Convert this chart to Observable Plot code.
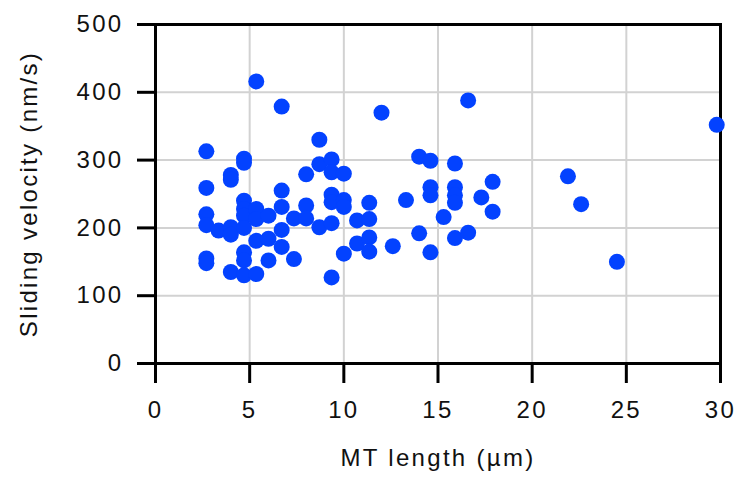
<!DOCTYPE html>
<html>
<head>
<meta charset="utf-8">
<script src="https://cdn.jsdelivr.net/npm/d3@7"></script>
<script src="https://cdn.jsdelivr.net/npm/@observablehq/plot@0.6"></script>
<style>
  html, body { margin: 0; padding: 0; background: #fff; }
  #chart svg { display: block; }
  #chart svg text { font-family: 'Liberation Sans', Arial, sans-serif; letter-spacing: 2.3px; fill: #111; }
</style>
</head>
<body>
<div id="chart"></div>
<script>
// MT length (µm) and sliding velocity (nm/s)
const lengths = [
  2.7, 2.7, 2.7, 2.7, 2.7, 2.7,
  3.35,
  4.0, 4.0, 4.0, 4.0, 4.0,
  4.7, 4.7, 4.7, 4.7, 4.7, 4.7, 4.7, 4.7, 4.7,
  5.35, 5.35, 5.35, 5.35, 5.35,
  6.0, 6.0, 6.0,
  6.7, 6.7, 6.7, 6.7, 6.7,
  7.35, 7.35,
  8.0, 8.0, 8.0,
  8.7, 8.7, 8.7,
  9.35, 9.35, 9.35, 9.35, 9.35, 9.35,
  10.0, 10.0, 10.0, 10.0,
  10.7, 10.7,
  11.35, 11.35, 11.35, 11.35,
  12.0, 12.6, 13.3,
  14.0, 14.0,
  14.6, 14.6, 14.6, 14.6,
  15.3,
  15.9, 15.9, 15.9, 15.9, 15.9,
  16.6, 16.6,
  17.3,
  17.9, 17.9,
  21.9, 22.6, 24.5, 29.8
];
const velocities = [
  313, 259, 220, 204, 155, 148,
  196,
  278, 271, 201, 190, 135,
  302, 296, 240, 228, 218, 200, 164, 152, 130,
  416, 228, 213, 181, 132,
  218, 184, 152,
  379, 255, 231, 197, 172,
  214, 154,
  279, 233, 214,
  330, 294, 201,
  301, 282, 249, 238, 207, 127,
  280, 241, 231, 162,
  211, 177,
  237, 213, 186, 165,
  370, 173, 241,
  305, 192,
  299, 260, 248, 164,
  216,
  295, 260, 248, 237, 185,
  388, 193,
  245,
  268, 224,
  276, 235, 150, 352
];
const xTicks = [0, 5, 10, 15, 20, 25, 30];
const yTicks = [0, 100, 200, 300, 400, 500];
const xTitle = "MT length (µm)";
const yTitle = "Sliding velocity (nm/s)";

const points = lengths.map((x, i) => ({x, y: velocities[i]}));

const chart = Plot.plot({
  width: 738,
  height: 477,
  marginLeft: 155,
  marginRight: 18,
  marginTop: 24,
  marginBottom: 114,
  style: {fontFamily: "'Liberation Sans', Arial, sans-serif", fontSize: "24px", color: "#111", background: "#fff"},
  x: {domain: [0, 30], ticks: xTicks},
  y: {domain: [0, 500], ticks: yTicks},
  marks: [
    Plot.gridX(xTicks.filter(d => d > 0 && d < 30), {stroke: "#d2d2d2", strokeOpacity: 1, strokeWidth: 2}),
    Plot.gridY(yTicks.filter(d => d > 0 && d < 500), {stroke: "#d2d2d2", strokeOpacity: 1, strokeWidth: 2}),
    Plot.axisX(xTicks, {tickSize: 20, tickPadding: 17, strokeWidth: 3, stroke: "#000", fontSize: 24, label: null}),
    Plot.axisY(yTicks, {tickSize: 18, tickPadding: 14, strokeWidth: 3, stroke: "#000", fontSize: 24, label: null}),
    Plot.frame({stroke: "#000", strokeWidth: 3}),
    Plot.text([xTitle], {frameAnchor: "bottom", dy: 102, fontSize: 24, textAnchor: "middle", text: d => d}),
    Plot.text([yTitle], {frameAnchor: "left", dx: -126, rotate: -90, textAnchor: "middle", fontSize: 24, text: d => d}),
    Plot.dot(points, {x: "x", y: "y", r: 8, fill: "#0342ff", stroke: "none"})
  ]
});
document.getElementById("chart").appendChild(chart);
</script>
</body>
</html>
